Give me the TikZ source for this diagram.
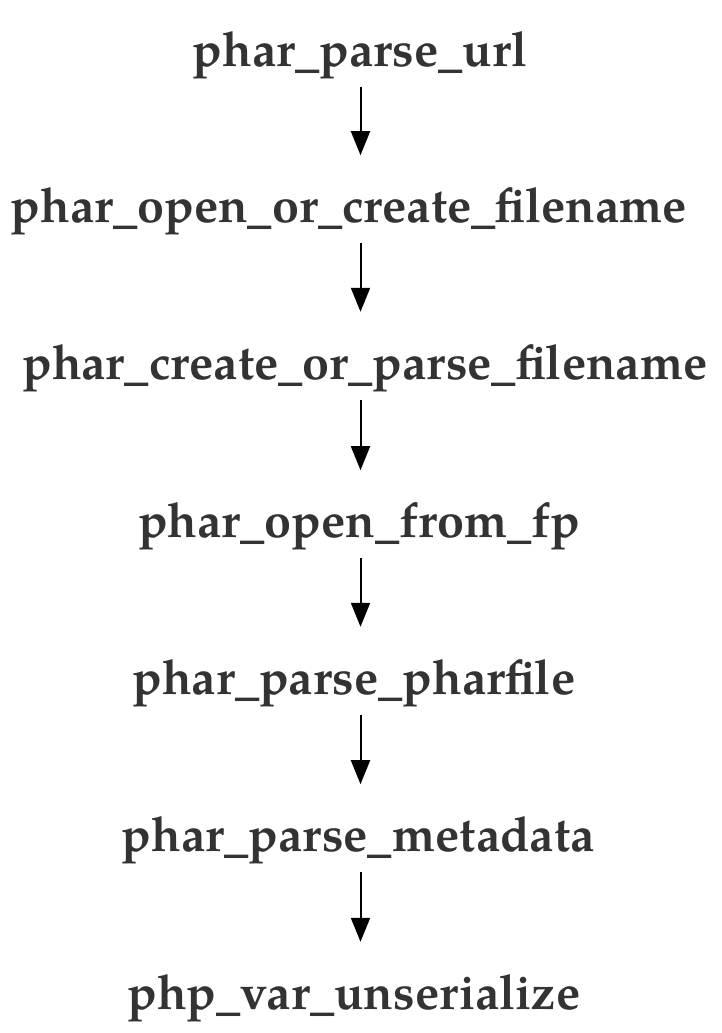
\documentclass[tikz,border=0pt]{standalone}
\usepackage{fontspec}
\setmainfont{TeX Gyre Pagella}
\usetikzlibrary{arrows.meta}
\definecolor{txt}{HTML}{333333}
\begin{document}
\begin{tikzpicture}[x=1pt,y=-1pt,
  lbl/.style={anchor=base, inner sep=0pt, outer sep=0pt, text height=67.5pt, text depth=20.5pt,
    font=\bfseries\fontsize{48.5}{48.5}\selectfont, text=txt},
  arr/.style={draw=black, line width=2pt, -{Triangle[width=19pt,length=24pt]}}]
\useasboundingbox (0,0) rectangle (721,1033);
\coordinate (axis) at (360.5,0);
\node[lbl] (n1) at (360,66.7) {phar\_parse\_url};
\node[lbl] (n2) at (349,222.7) {phar\_open\_or\_create\_filename};
\node[lbl] (n3) at (365,379.3) {phar\_create\_or\_parse\_filename};
\node[lbl] (n4) at (359,537.7) {phar\_open\_from\_fp};
\node[lbl] (n5) at (354,694.3) {phar\_parse\_pharfile};
\node[lbl] (n6) at (358.5,851.7) {phar\_parse\_metadata};
\node[lbl] (n7) at (354,1009.3) {php\_var\_unserialize};
\foreach \a/\b in {n1/n2,n2/n3,n3/n4,n4/n5,n5/n6,n6/n7}
  \draw[arr] (\a.south -| axis) -- (\b.north -| axis);
\end{tikzpicture}
\end{document}
